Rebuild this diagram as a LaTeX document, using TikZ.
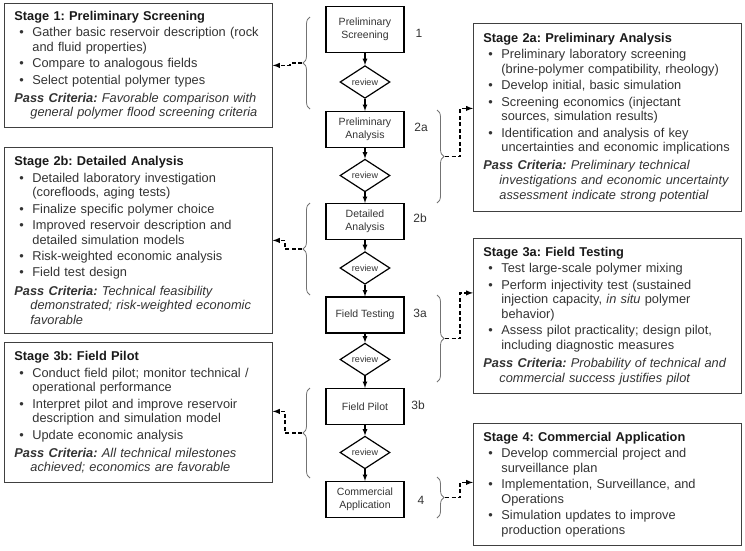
\documentclass[tikz,border=0pt]{standalone}
\usepackage{fontspec}
\setmainfont{Liberation Sans}
\usetikzlibrary{shapes.geometric,decorations.pathreplacing,calc}

\frenchspacing
\newcommand{\itm}[1]{\par\vspace{1.8pt}{\leftskip=18pt\noindent\hspace*{-18pt}\makebox[18pt][l]{\hspace{5pt}\textbullet}#1\par}}
\newcommand{\passcrit}[1]{\par\vspace{3.5pt}{\leftskip=16pt\noindent\hspace*{-16pt}\textbf{\textit{Pass Criteria:}} \textit{#1}\par}}

\tikzset{
  infobox/.style={draw=black!75, line width=0.8pt, anchor=north west, text width=248pt,
    inner xsep=10pt, inner ysep=3pt, align=left, text=black!80,
    font=\fontsize{12.8}{14.6}\selectfont},
  stagebox/.style={draw, line width=1.2pt, minimum width=78pt, minimum height=36pt,
    align=center, inner sep=1pt, text=black!80, font=\fontsize{10.5}{12.5}\selectfont},
  reviewbox/.style={draw, diamond, line width=1.2pt, minimum width=50pt, minimum height=30pt,
    inner sep=0pt, text=black!80, font=\fontsize{9}{10}\selectfont},
  stagenum/.style={text=black!80, font=\fontsize{12}{14}\selectfont},
  flow/.style={line width=1.2pt, -latex},
  grp/.style={draw=black!55, line width=0.8pt, decorate, decoration={brace, amplitude=7pt}},
  link/.style={line width=1.4pt, dash pattern=on 4pt off 2.5pt, -latex}
}

\begin{document}
\begin{tikzpicture}[x=1pt, y=-1pt]
    \useasboundingbox (0,0) rectangle (745,550);

    % stage descriptions, left column
    \node [infobox, minimum height=124pt] (s1) at (4,3) {%
      \textbf{\color{black!90}Stage 1: Preliminary Screening}
      \itm{Gather basic reservoir description (rock\newline and fluid properties)}
      \itm{Compare to analogous fields}
      \itm{Select potential polymer types}
      \passcrit{Favorable comparison with\newline general polymer flood screening criteria}};
    \node [infobox, minimum height=186pt] (s2b) at (4,147) {%
      \textbf{\color{black!90}Stage 2b: Detailed Analysis}
      \itm{Detailed laboratory investigation\newline (corefloods, aging tests)}
      \itm{Finalize specific polymer choice}
      \itm{Improved reservoir description and\newline detailed simulation models}
      \itm{Risk-weighted economic analysis}
      \itm{Field test design}
      \passcrit{Technical feasibility\newline demonstrated; risk-weighted economic\newline favorable}};
    \node [infobox, minimum height=140pt] (s3b) at (4,342) {%
      \textbf{\color{black!90}Stage 3b: Field Pilot}
      \itm{Conduct field pilot; monitor technical /\newline operational performance}
      \itm{Interpret pilot and improve reservoir\newline description and simulation model}
      \itm{Update economic analysis}
      \passcrit{All technical milestones\newline achieved; economics are favorable}};

    % stage descriptions, right column
    \node [infobox, minimum height=188pt] (s2a) at (473,23) {%
      \textbf{\color{black!90}Stage 2a: Preliminary Analysis}
      \itm{Preliminary laboratory screening\newline (brine-polymer compatibility, rheology)}
      \itm{Develop initial, basic simulation}
      \itm{Screening economics (injectant\newline sources, simulation results)}
      \itm{Identification and analysis of key\newline uncertainties and economic implications}
      \passcrit{Preliminary technical\newline investigations and economic uncertainty\newline assessment indicate strong potential}};
    \node [infobox, minimum height=155pt] (s3a) at (473,238) {%
      \textbf{\color{black!90}Stage 3a: Field Testing}
      \itm{Test large-scale polymer mixing}
      \itm{Perform injectivity test (sustained\newline injection capacity, \textit{in situ} polymer\newline behavior)}
      \itm{Assess pilot practicality; design pilot,\newline including diagnostic measures}
      \passcrit{Probability of technical and\newline commercial success justifies pilot}};
    \node [infobox, minimum height=122pt] (s4) at (473,423) {%
      \textbf{\color{black!90}Stage 4: Commercial Application}
      \itm{Develop commercial project and\newline surveillance plan}
      \itm{Implementation, Surveillance, and\newline Operations}
      \itm{Simulation updates to improve\newline production operations}};

    % flow in the middle
    \node [stagebox, minimum height=46pt] (ps) at (365,29.5) {Preliminary\\Screening};
    \node [reviewbox] (r1) at (365,82) {review};
    \node [stagebox] (pa) at (365,129.5) {Preliminary\\Analysis};
    \node [reviewbox] (r2) at (365,175.5) {review};
    \node [stagebox] (da) at (365,221.5) {Detailed\\Analysis};
    \node [reviewbox] (r3) at (365,268) {review};
    \node [stagebox] (ft) at (365,315) {Field Testing};
    \node [reviewbox] (r4) at (365,359.5) {review};
    \node [stagebox] (fp) at (365,406.5) {Field Pilot};
    \node [reviewbox] (r5) at (365,452.5) {review};
    \node [stagebox] (ca) at (365,499.5) {Commercial\\Application};

    \node [stagenum] (n1) at (419,33) {1};
    \node [stagenum] (n2a) at (421,127) {2a};
    \node [stagenum] (n2b) at (420,218) {2b};
    \node [stagenum] (n3a) at (420,313) {3a};
    \node [stagenum] (n3b) at (418,405) {3b};
    \node [stagenum] (n4) at (421,500) {4};

    \draw[flow] (ps) -- (r1);
    \draw[flow] (r1) -- (pa);
    \draw[flow] (pa) -- (r2);
    \draw[flow] (r2) -- (da);
    \draw[flow] (da) -- (r3);
    \draw[flow] (r3) -- (ft);
    \draw[flow] (ft) -- (r4);
    \draw[flow] (r4) -- (fp);
    \draw[flow] (fp) -- (r5);
    \draw[flow] (r5) -- (ca);

    % braces
    \draw[grp] (310,109) -- (310,17);
    \draw[grp] (310,295) -- (310,203);
    \draw[grp] (310,478) -- (310,388);
    \draw[grp] (437,110) -- (437,203);
    \draw[grp] (437,295) -- (437,382);
    \draw[grp] (437,477) -- (437,518);
    \coordinate (t1) at (302,63);
    \coordinate (t2b) at (302,249);
    \coordinate (t3b) at (302,433);
    \coordinate (t2a) at (445,156.5);
    \coordinate (t3a) at (445,338.5);
    \coordinate (t4) at (445,497.5);

    \draw[link] (t1) -- ++(-12,0) |- (s1.east);
    \draw[link] (t2b) -- ++(-17,0) |- (s2b.east);
    \draw[link] (t3b) -- ++(-17,0) |- ([yshift=1pt]s3b.east);
    \draw[link] (t2a) -- ++(15,0) |- ([yshift=9pt]s2a.west);
    \draw[link] (t3a) -- ++(15,0) |- ([yshift=23pt]s3a.west);
    \draw[link] (t4) -- ++(15,0) |- ([yshift=2pt]s4.west);
\end{tikzpicture}
\end{document}
